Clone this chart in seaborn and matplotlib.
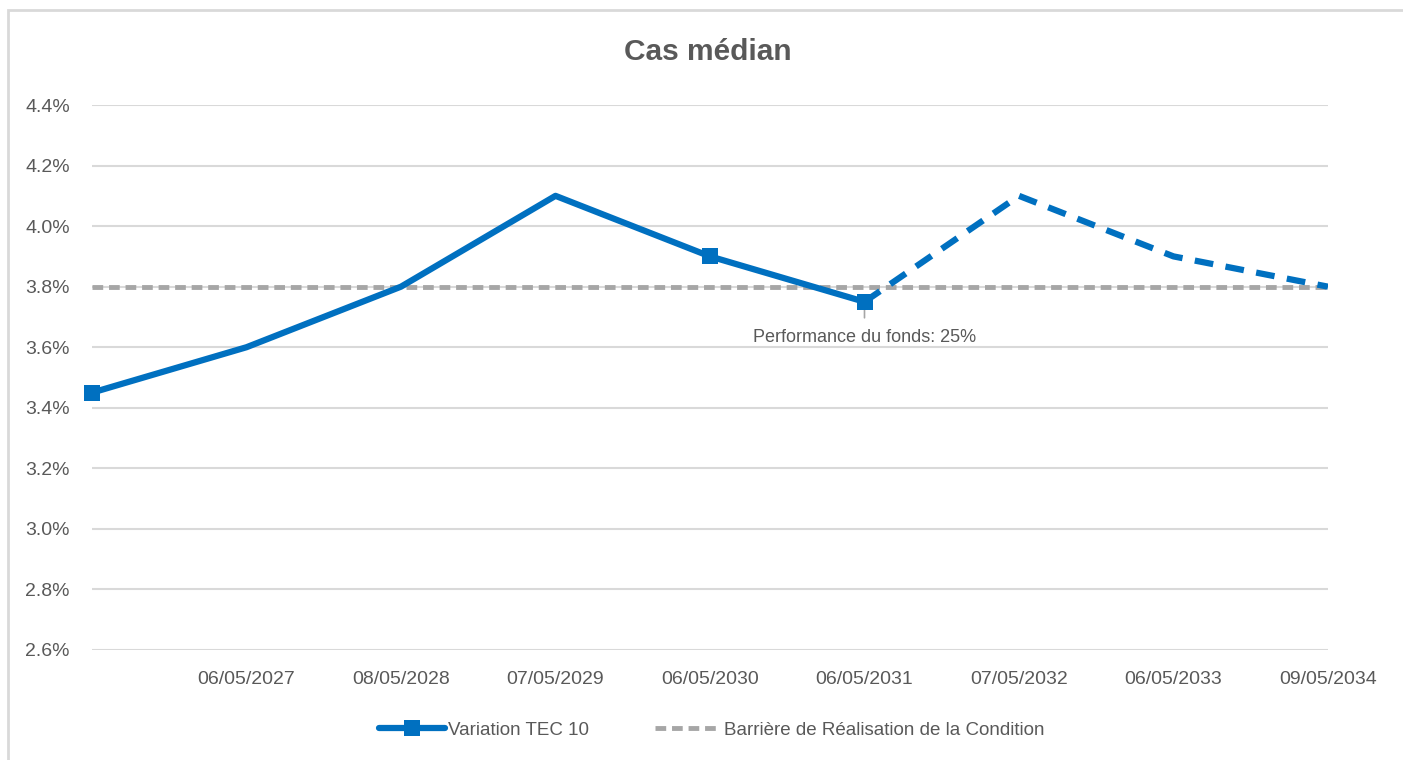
import matplotlib
matplotlib.use('Agg')
import matplotlib.pyplot as plt
import seaborn as sns
import pandas as pd
from matplotlib.ticker import FuncFormatter
from matplotlib.lines import Line2D
from matplotlib.patches import Rectangle

# données
dates = ['', '06/05/2027', '08/05/2028', '07/05/2029', '06/05/2030',
         '06/05/2031', '07/05/2032', '06/05/2033', '09/05/2034']
tec10 = [3.45, 3.60, 3.80, 4.10, 3.90, 3.75, 4.10, 3.90, 3.80]
barriere = [3.80] * 9
n_reel = 6          # points 0..5 en trait plein, la suite en pointillés
marqueurs = [0, 4, 5]
note = 'Performance du fonds: 25%'

sns.set_theme(style='white')
plt.rcParams['font.family'] = ['Liberation Sans', 'DejaVu Sans']

bleu = '#0070C0'
gris = '#A6A6A6'
texte = '#595959'

df = pd.DataFrame({'x': range(len(dates)), 'tec': tec10, 'bar': barriere})

fig = plt.figure(figsize=(14.03, 7.6), dpi=100)
ax = fig.add_axes([92 / 1403, 1 - 650 / 760, (1328 - 92) / 1403, (650 - 105) / 760])

sns.lineplot(data=df, x='x', y='bar', ax=ax, color=gris, lw=3.5,
             dashes=False, linestyle=(0, (2.2, 1.2)), zorder=3)
sns.lineplot(data=df.iloc[:n_reel], x='x', y='tec', ax=ax, color=bleu, lw=4.5,
             marker='s', markersize=11, markevery=marqueurs, markeredgewidth=0,
             zorder=4, clip_on=False)
sns.lineplot(data=df.iloc[n_reel - 1:], x='x', y='tec', ax=ax, color=bleu, lw=4.5,
             linestyle=(0, (3, 2)), zorder=4)

ax.set_xlim(0, len(dates) - 1)
ax.set_ylim(2.6, 4.4)
ax.set_yticks([2.6 + 0.2 * i for i in range(10)])
ax.yaxis.set_major_formatter(FuncFormatter(lambda v, p: f'{v:.1f}%'))
ax.set_xticks(df['x'])
ax.set_xticklabels(dates)
ax.grid(axis='y', color='#D9D9D9', lw=1.5)
ax.grid(axis='x', visible=False)
for s in ax.spines.values():
    s.set_visible(False)
ax.tick_params(axis='y', labelsize=14, colors=texte, length=0, pad=16)
ax.tick_params(axis='x', labelsize=14, colors=texte, length=0, pad=15)
ax.set_xlabel('')
ax.set_ylabel('')

# annotation sous le point 06/05/2031
ax.annotate(note, xy=(5, tec10[5]), xytext=(0, -26), textcoords='offset points',
            ha='center', va='center', fontsize=13, color=texte,
            arrowprops=dict(arrowstyle='-', color=gris, lw=1.2, shrinkA=6, shrinkB=0,
                            relpos=(0.5, 1.0)))

fig.text(708 / 1403, 1 - 52 / 760, 'Cas médian', ha='center', va='center',
         fontsize=21.5, fontweight='bold', color=texte)

handles = [Line2D([], [], color=bleu, lw=4.5, marker='s', markersize=11, markeredgewidth=0),
           Line2D([], [], color=gris, lw=3.5, linestyle=(0, (2.2, 1.2)))]
fig.legend(handles, ['Variation TEC 10', 'Barrière de Réalisation de la Condition'],
           loc='center', bbox_to_anchor=(712 / 1403, 1 - 730 / 760), ncol=2, frameon=False,
           fontsize=13.5, labelcolor=texte, handlelength=3.5, handletextpad=0.2,
           columnspacing=3.5)

fig.patches.append(Rectangle((8 / 1403, -0.05), 1.1, 1 - 10 / 760 + 0.05,
                             transform=fig.transFigure, fill=False, ec='#D9D9D9', lw=2))

fig.savefig('out.png', dpi=100)
